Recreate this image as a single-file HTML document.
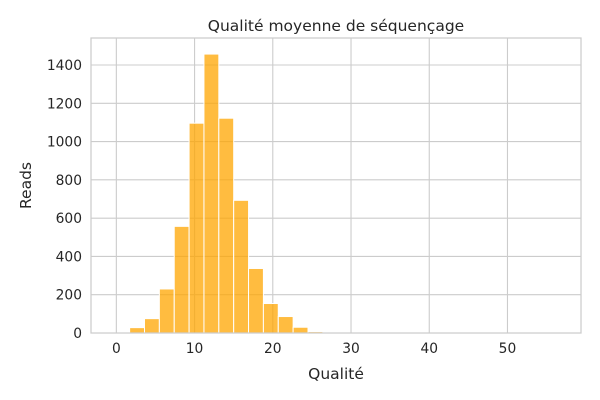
<!DOCTYPE html>
<html><head><meta charset="utf-8"><style>
html,body{margin:0;padding:0;background:#fff;}
svg{display:block;font-family:"DejaVu Sans","Liberation Sans",sans-serif;}
</style></head><body>
<svg id="chart" width="600" height="400" xmlns="http://www.w3.org/2000/svg"></svg>
<script>
const binStarts=[1.7,3.6,5.5,7.4,9.3,11.2,13.1,15.0,16.9,18.8,20.7,22.6,24.5];
const binWidth=1.9;
const counts=[28,75,230,557,1096,1457,1122,693,337,154,86,30,7];
const xTicks=[0,10,20,30,40,50];
const yTicks=[0,200,400,600,800,1000,1200,1400];

const L=91,R=581,T=38,B=333;
const xMin=-3.24,xMax=59.4,yMin=0,yMax=1541;
const sx=v=>L+(v-xMin)/(xMax-xMin)*(R-L);
const sy=v=>B-(v-yMin)/(yMax-yMin)*(B-T);
const svg=document.getElementById('chart');
const NS='http://www.w3.org/2000/svg';
function mk(tag,attrs,parent){const e=document.createElementNS(NS,tag);for(const k in attrs)e.setAttribute(k,attrs[k]);(parent||svg).appendChild(e);return e;}

const grid=mk('g',{});


xTicks.forEach(t=>{const l=mk('line',{x1:sx(t),x2:sx(t),y1:T,y2:B,stroke:'#cccccc','stroke-width':1.1},grid);

});
yTicks.forEach(t=>{const l=mk('line',{x1:L,x2:R,y1:sy(t),y2:sy(t),stroke:'#cccccc','stroke-width':1.1},grid);

});

const bars=mk('g',{});


counts.forEach((c,i)=>{const x0=sx(binStarts[i]),x1=sx(binStarts[i]+binWidth);
const r=mk('rect',{x:x0,y:sy(c),width:x1-x0,height:sy(0)-sy(c),fill:'#ffa500','fill-opacity':0.75,stroke:'#ffffff','stroke-width':1},bars);

});

const frame=mk('rect',{x:L,y:T,width:R-L,height:B-T,fill:'none',stroke:'#cccccc','stroke-width':1.25});



xTicks.forEach(t=>{const tx=mk('text',{x:sx(t),y:B+20,'text-anchor':'middle','font-size':13.8,fill:'#262626'});tx.textContent=t;

});
yTicks.forEach(t=>{const tx=mk('text',{x:L-9,y:sy(t)+5,'text-anchor':'end','font-size':13.8,fill:'#262626'});tx.textContent=t;

});

const title=mk('text',{x:(L+R)/2,y:31,'text-anchor':'middle','font-size':15.5,fill:'#262626'});title.textContent='Qualité moyenne de séquençage';


const xl=mk('text',{x:(L+R)/2,y:379,'text-anchor':'middle','font-size':15.5,fill:'#262626'});xl.textContent='Qualité';


const yl=mk('text',{x:31,y:(T+B)/2,'text-anchor':'middle','font-size':15.5,fill:'#262626',transform:'rotate(-90 31 '+((T+B)/2)+')'});yl.textContent='Reads';


</script>
</body></html>
